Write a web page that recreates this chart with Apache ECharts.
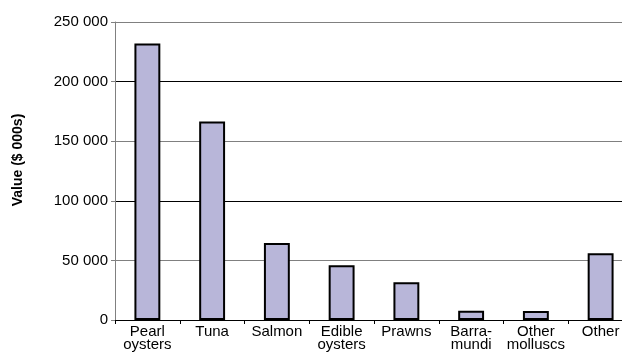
<!DOCTYPE html>
<html>
<head>
<meta charset="utf-8">
<script src="https://cdn.jsdelivr.net/npm/echarts@6/dist/echarts.min.js"></script>
<style>
  html, body { margin: 0; padding: 0; background: #fff; }
  #chart { width: 622px; height: 353px; }
</style>
</head>
<body>
<div id="chart"></div>
<script>
// categories and values ($ 000s)
var categories = ['Pearl\noysters', 'Tuna', 'Salmon', 'Edible\noysters', 'Prawns', 'Barra-\nmundi', 'Other\nmolluscs', 'Other'];
var values = [232000, 166500, 64600, 46000, 31700, 7800, 7600, 56000];
var yTicks = [0, 50000, 100000, 150000, 200000, 250000];
var yTitle = 'Value ($ 000s)';

var fmt = function (v) {
  return String(v).replace(/\B(?=(\d{3})+(?!\d))/g, ' ');
};

var chart = echarts.init(document.getElementById('chart'));
chart.setOption({
  backgroundColor: '#fff',
  animation: false,
  textStyle: { fontFamily: 'Liberation Sans, Arial, sans-serif' },
  grid: { left: 115, top: 22, width: 518, height: 298, outerBoundsMode: 'none', containLabel: false },
  graphic: [{
    type: 'text',
    x: 18,
    y: 160,
    rotation: Math.PI / 2,
    style: {
      text: yTitle,
      fill: '#000',
      font: 'bold 14px Liberation Sans, Arial, sans-serif',
      align: 'center',
      verticalAlign: 'middle'
    }
  }],
  xAxis: {
    type: 'category',
    data: categories,
    axisLine: { lineStyle: { color: '#000', width: 1 } },
    axisTick: { show: true, length: 4, lineStyle: { color: '#000' } },
    axisLabel: {
      color: '#000',
      fontSize: 15,
      lineHeight: 13,
      margin: 5,
      interval: 0
    }
  },
  yAxis: {
    type: 'value',
    min: yTicks[0],
    max: yTicks[yTicks.length - 1],
    interval: 50000,
    axisLine: { show: true, lineStyle: { color: '#808080', width: 1 } },
    axisTick: { show: true, length: 4, lineStyle: { color: '#808080' } },
    axisLabel: {
      color: '#000',
      fontSize: 15,
      margin: 7,
      formatter: fmt
    },
    splitLine: {
      show: true,
      lineStyle: { color: ['#000', '#808080'], width: 1 }
    }
  },
  series: [{
    type: 'bar',
    data: values,
    barWidth: '40%',
    itemStyle: {
      color: '#b8b6d9',
      borderColor: '#000',
      borderWidth: 2
    }
  }]
});
</script>
</body>
</html>
